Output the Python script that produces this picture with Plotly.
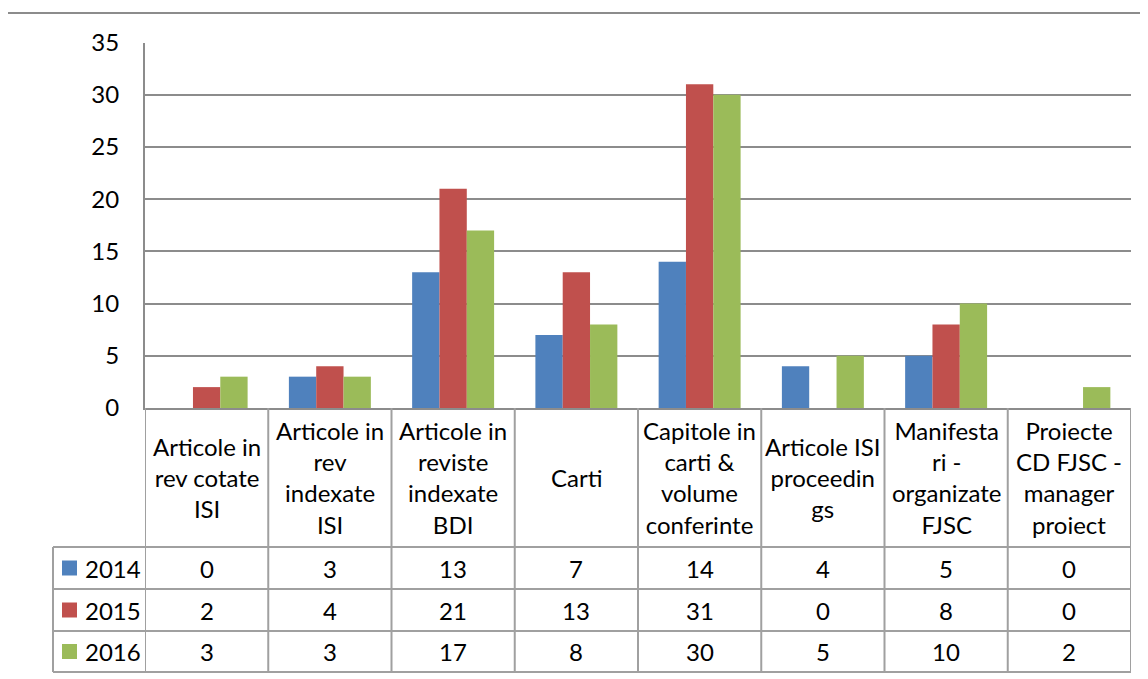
import plotly.graph_objects as go

categories = [
    "Articole in<br>rev cotate<br>ISI",
    "Articole in<br>rev<br>indexate<br>ISI",
    "Articole in<br>reviste<br>indexate<br>BDI",
    "Carti",
    "Capitole in<br>carti &amp;<br>volume<br>conferinte",
    "Articole ISI<br>proceedin<br>gs",
    "Manifesta<br>ri -<br>organizate<br>FJSC",
    "Proiecte<br>CD FJSC -<br>manager<br>proiect",
]
series_names = ["2014", "2015", "2016"]
values_2014 = [0, 3, 13, 7, 14, 4, 5, 0]
values_2015 = [2, 4, 21, 13, 31, 0, 8, 0]
values_2016 = [3, 3, 17, 8, 30, 5, 10, 2]
colors = ["#4F81BD", "#C0504D", "#9BBB59"]
y_ticks = [0, 5, 10, 15, 20, 25, 30, 35]

# the page body adds an 8px margin; work in screen pixels and subtract it
OFF = 8
W, H = 1148 - OFF, 679 - OFF
FONT = "Lato"
FS = 24
GRID = "#8C8C8C"
TABLE = "#A0A0A0"


def px(x):
    return (x - OFF) / W


def py(y):
    return 1 - (y - OFF) / H


plot_l, plot_r, plot_t, plot_b = 145, 1131, 42.5, 408
table_rows = [547, 589, 631, 672]
legend_l = 53

idx = list(range(len(categories)))
all_series = [values_2014, values_2015, values_2016]

fig = go.Figure()
for name, vals, col in zip(series_names, all_series, colors):
    fig.add_trace(go.Bar(x=idx, y=vals, name=name, marker=dict(color=col, line=dict(width=0))))

shapes = []
annotations = []

# outer chart frame
shapes.append(dict(type="rect", xref="paper", yref="paper", x0=px(7), x1=px(1200), y0=py(720), y1=py(13),
                   line=dict(color=GRID, width=2), layer="below"))

# table horizontal lines
for r in table_rows:
    shapes.append(dict(type="line", xref="paper", yref="paper", x0=px(legend_l), x1=px(plot_r),
                       y0=py(r), y1=py(r), line=dict(color=TABLE, width=2)))
# left legend column border
shapes.append(dict(type="line", xref="paper", yref="paper", x0=px(legend_l), x1=px(legend_l),
                   y0=py(table_rows[0]), y1=py(table_rows[-1]), line=dict(color=TABLE, width=2)))
# category vertical lines
for i in range(len(categories) + 1):
    shapes.append(dict(type="line", xref="x", yref="paper", x0=i - 0.5, x1=i - 0.5,
                       y0=py(plot_b), y1=py(table_rows[-1]), line=dict(color=TABLE, width=2)))

# category labels
for i, c in enumerate(categories):
    annotations.append(dict(x=i, y=py((plot_b + table_rows[0]) / 2), xref="x", yref="paper", text=c,
                            showarrow=False, xanchor="center", yanchor="middle",
                            font=dict(family=FONT, size=FS, color="black")))

# data rows
for r, (name, vals, col) in enumerate(zip(series_names, all_series, colors)):
    yc = (table_rows[r] + table_rows[r + 1]) / 2
    shapes.append(dict(type="rect", xref="paper", yref="paper", x0=px(62), x1=px(77),
                       y0=py(yc + 7.5), y1=py(yc - 7.5), fillcolor=col, line=dict(width=0)))
    annotations.append(dict(x=px(83), y=py(yc), xref="paper", yref="paper", text=name, showarrow=False,
                            xanchor="left", yanchor="middle", font=dict(family=FONT, size=FS, color="black")))
    for i, v in enumerate(vals):
        annotations.append(dict(x=i, y=py(yc), xref="x", yref="paper", text=str(v), showarrow=False,
                                xanchor="center", yanchor="middle",
                                font=dict(family=FONT, size=FS, color="black")))

fig.update_layout(
    template="none",
    width=W, height=H,
    margin=dict(l=0, r=0, t=0, b=0, pad=0, autoexpand=False),
    paper_bgcolor="white", plot_bgcolor="white",
    barmode="group", bargap=0.335, bargroupgap=0,
    showlegend=False,
    shapes=shapes, annotations=annotations,
    font=dict(family=FONT, size=FS, color="black"),
    xaxis=dict(domain=[px(plot_l), px(plot_r)], range=[-0.5, len(categories) - 0.5], automargin=False,
               showticklabels=False, showgrid=False, zeroline=False,
               showline=True, linecolor=GRID, linewidth=2, ticks=""),
    yaxis=dict(domain=[py(plot_b), py(plot_t)], range=[0, 35], tickvals=y_ticks, automargin=False,
               showgrid=True, gridcolor=GRID, gridwidth=2, zeroline=False,
               showline=True, linecolor=GRID, linewidth=2, ticks="",
               ticklabelstandoff=19, tickfont=dict(family=FONT, size=FS, color="black")),
)

fig.write_html("out.html")
